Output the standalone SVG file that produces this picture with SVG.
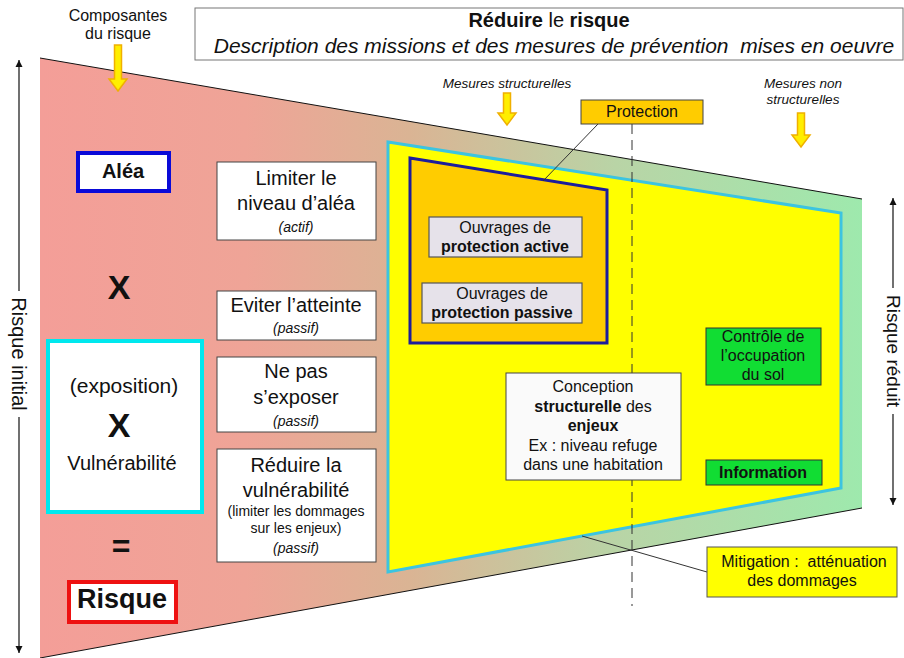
<svg xmlns="http://www.w3.org/2000/svg" width="904" height="658" viewBox="0 0 904 658">
<defs>
<linearGradient id="bg" gradientUnits="userSpaceOnUse" x1="40" y1="0" x2="862" y2="0">
<stop offset="0" stop-color="#f49e98"/>
<stop offset="0.25" stop-color="#efa497"/>
<stop offset="0.45" stop-color="#dab494"/>
<stop offset="0.7" stop-color="#b9d4a6"/>
<stop offset="1" stop-color="#9ee9ad"/>
</linearGradient>
<marker id="ah" viewBox="0 0 10 10" refX="10" refY="5" markerWidth="7" markerHeight="9" orient="auto-start-reverse" markerUnits="userSpaceOnUse">
<path d="M0,0 L10,5 L0,10 z" fill="#111"/>
</marker>
<style>
text{font-family:"Liberation Sans",Arial,sans-serif;fill:#111;text-anchor:middle}
.b{font-weight:bold}
.i{font-style:italic}
.pre{white-space:pre}
.ya{fill:#ffee00;stroke:#f0b000;stroke-width:1.5}
.wb{fill:#ffffff;stroke:#444;stroke-width:1}
.gb{fill:#e6e2ea;stroke:#555;stroke-width:1.2}
.grn{fill:#11dd33;stroke:#333;stroke-width:1}
.ax{stroke:#111;stroke-width:1.2;fill:none}
.t20{font-size:20px}
.t16{font-size:16px}
.t14{font-size:14px}
.t13{font-size:13.5px}
</style>
</defs>

<g id="background">
<polygon points="40,58 862,199 862,508 40,658" fill="url(#bg)"/>
<line x1="40" y1="58" x2="862" y2="199" stroke="#111" stroke-width="1"/>
<line x1="40" y1="658" x2="862" y2="508" stroke="#111" stroke-width="1"/>
</g>

<g id="zone-mitigation">
<polygon points="388,142 841,213 841,488 388,572" fill="#ffff00" stroke="#3cc4e0" stroke-width="3"/>
</g>

<g id="zone-protection">
<polygon points="410,158 607,190 607,343 410,343" fill="#ffcc00" stroke="#1c1c9c" stroke-width="3"/>
</g>

<g id="connectors">
<line x1="632" y1="124" x2="632" y2="606" stroke="#333" stroke-width="1" stroke-dasharray="10 6"/>
<line x1="598" y1="124" x2="543" y2="181" stroke="#333" stroke-width="1"/>
<line x1="582" y1="536" x2="707" y2="572" stroke="#333" stroke-width="1"/>
<line class="ax" x1="19" y1="60" x2="19" y2="291" marker-start="url(#ah)"/>
<line class="ax" x1="19" y1="417" x2="19" y2="653" marker-end="url(#ah)"/>
<line class="ax" x1="893" y1="198" x2="893" y2="288" marker-start="url(#ah)"/>
<line class="ax" x1="893" y1="414" x2="893" y2="505" marker-end="url(#ah)"/>
<polygon class="ya" points="114.5,45 121.5,45 121.5,79 127,79 118,91 109,79 114.5,79"/>
<polygon class="ya" points="503.5,93 510.5,93 510.5,113 516,113 507,125 498,113 503.5,113"/>
<polygon class="ya" points="797.5,113 804.5,113 804.5,135 810,135 801,147 792,135 797.5,135"/>
</g>

<g id="title">
<rect x="195" y="8" width="708" height="52" fill="#fff" stroke="#777" stroke-width="1"/>
<text x="549" y="27" class="t20"><tspan class="b">Réduire</tspan> le <tspan class="b">risque</tspan></text>
<text x="554" y="53" class="i pre" style="font-size:21px" xml:space="preserve">Description des missions et des mesures de prévention  mises en oeuvre</text>
</g>

<g id="label-composantes">
<text x="118" y="21" class="t16">Composantes</text>
<text x="118" y="39" class="t16">du risque</text>
</g>

<g id="label-mesures-structurelles">
<text x="507" y="88" class="t13 i">Mesures structurelles</text>
</g>

<g id="label-mesures-non-structurelles">
<text x="803" y="88" class="t13 i">Mesures non</text>
<text x="803" y="104" class="t13 i">structurelles</text>
</g>

<g id="label-risque-initial">
<text transform="translate(19,354) rotate(90)" dominant-baseline="central" style="font-size:20px">Risque initial</text>
</g>

<g id="label-risque-reduit">
<text transform="translate(893,351) rotate(90)" dominant-baseline="central" style="font-size:19px">Risque réduit</text>
</g>

<g id="alea">
<rect x="78" y="153" width="91" height="38" fill="#fff" stroke="#0a0ad8" stroke-width="4"/>
<text x="123" y="178" class="t20 b">Aléa</text>
</g>

<g id="x1">
<text x="119" y="299" class="b" style="font-size:34px">X</text>
</g>

<g id="exposition-vulnerabilite">
<rect x="48" y="341" width="154" height="171" fill="#fff" stroke="#00e8ee" stroke-width="4"/>
<text x="124" y="393" style="font-size:21px">(exposition)</text>
<text x="119" y="437" class="b" style="font-size:34px">X</text>
<text x="122" y="470" class="t20">Vulnérabilité</text>
</g>

<g id="egal">
<text x="121" y="557" class="b" style="font-size:32px">=</text>
</g>

<g id="risque">
<rect x="69" y="582" width="107" height="40" fill="#fff" stroke="#ee1111" stroke-width="4"/>
<text x="122" y="608" class="b" style="font-size:27px">Risque</text>
</g>

<g id="limiter-alea">
<rect class="wb" x="217" y="162" width="159" height="78"/>
<text x="296" y="185" class="t20">Limiter le</text>
<text x="296" y="210" class="t20">niveau d’aléa</text>
<text x="296" y="232" class="t14 i">(actif)</text>
</g>

<g id="eviter-atteinte">
<rect class="wb" x="217" y="291" width="159" height="49"/>
<text x="296" y="312" class="t20">Eviter l’atteinte</text>
<text x="296" y="333" class="t14 i">(passif)</text>
</g>

<g id="ne-pas-exposer">
<rect class="wb" x="217" y="357" width="159" height="75"/>
<text x="296" y="378" class="t20">Ne pas</text>
<text x="296" y="404" class="t20">s’exposer</text>
<text x="296" y="426" class="t14 i">(passif)</text>
</g>

<g id="reduire-vulnerabilite">
<rect class="wb" x="217" y="449" width="159" height="113"/>
<text x="296" y="472" class="t20">Réduire la</text>
<text x="296" y="497" class="t20">vulnérabilité</text>
<text x="296" y="516" class="t14">(limiter les dommages</text>
<text x="296" y="533" class="t14">sur les enjeux)</text>
<text x="296" y="553" class="t14 i">(passif)</text>
</g>

<g id="protection">
<rect x="581" y="100" width="122" height="24" fill="#ffcc00" stroke="#444" stroke-width="1"/>
<text x="642" y="117" class="t16">Protection</text>
</g>

<g id="ouvrages-active">
<rect class="gb" x="429" y="217" width="153" height="40"/>
<text x="505" y="233" class="t16">Ouvrages de</text>
<text x="505" y="252" class="t16 b">protection active</text>
</g>

<g id="ouvrages-passive">
<rect class="gb" x="422" y="283" width="160" height="40"/>
<text x="502" y="299" class="t16">Ouvrages de</text>
<text x="502" y="318" class="t16 b">protection passive</text>
</g>

<g id="conception">
<rect x="506" y="373" width="175" height="107" fill="#fafafa" stroke="#444" stroke-width="1"/>
<text x="593" y="392" class="t16">Conception</text>
<text x="593" y="412" class="t16"><tspan class="b">structurelle</tspan> des</text>
<text x="593" y="431" class="t16 b">enjeux</text>
<text x="593" y="451" class="t16">Ex : niveau refuge</text>
<text x="593" y="470" class="t16">dans une habitation</text>
</g>

<g id="controle-occupation">
<rect class="grn" x="706" y="328" width="115" height="57"/>
<text x="763" y="342" class="t16">Contrôle de</text>
<text x="763" y="361" class="t16">l’occupation</text>
<text x="763" y="380" class="t16">du sol</text>
</g>

<g id="information">
<rect class="grn" x="706" y="460" width="116" height="25"/>
<text x="763" y="478" class="t16 b">Information</text>
</g>

<g id="mitigation">
<rect x="707" y="547" width="190" height="50" fill="#ffff00" stroke="#555" stroke-width="1"/>
<text x="804" y="567" class="t16 pre" xml:space="preserve">Mitigation :  atténuation</text>
<text x="802" y="586" class="t16">des dommages</text>
</g>
</svg>
